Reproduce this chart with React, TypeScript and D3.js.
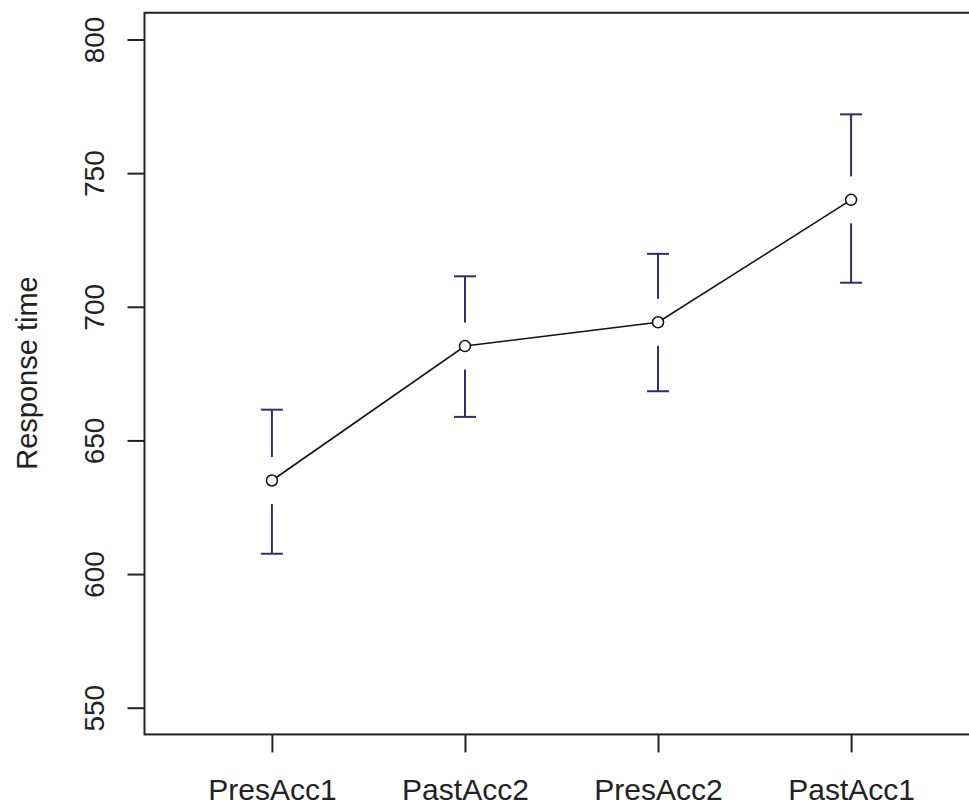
import React, { useRef, useEffect } from 'react';
import * as d3 from 'd3';

// condition order along the x axis
const conditions = ['PresAcc1', 'PastAcc2', 'PresAcc2', 'PastAcc1'];
// mean response time per condition
const means = [635, 685.3, 694.2, 740];
// error bar ends
const lower = [607.6, 658.8, 668.4, 709];
const upper = [661.5, 711.4, 719.8, 772];
const yTicks = [550, 600, 650, 700, 750, 800];

const W = 969;
const H = 809;
const FONT = '"Liberation Sans", Arial, Helvetica, sans-serif';

const App: React.FC = () => {
	const svgRef = useRef<SVGSVGElement | null>(null);

	useEffect(() => {
		if (!svgRef.current) return;
		const svg = d3.select(svgRef.current);
		svg.selectAll('*').remove();

		// R style: xlim (0.5, 4.5) and ylim (550, 800), each widened by 4%
		const x = d3.scaleLinear().domain([0.34, 4.66]).range([144.5, 978.5]);
		const y = d3.scaleLinear().domain([550, 800]).range([707.7, 39.5]);

		const idx = conditions.map((_, i) => i + 1);
		const ink = '#222';
		const barColor = '#2e2e6c';

		// plot box
		svg.append('rect')
			.attr('x', x(0.34))
			.attr('y', y(810))
			.attr('width', x(4.66) - x(0.34))
			.attr('height', y(540) - y(810))
			.attr('fill', 'none')
			.attr('stroke', ink)
			.attr('stroke-width', 2);

		// y axis
		const gy = svg.append('g')
			.attr('transform', `translate(${x(0.34)},0)`)
			.call(d3.axisLeft(y).tickValues(yTicks).tickSize(17).tickFormat(d3.format('d')));
		gy.select('.domain').remove();
		gy.selectAll('.tick line').attr('stroke', ink).attr('stroke-width', 2);
		gy.selectAll('.tick text')
			.attr('x', 0)
			.attr('dy', 0)
			.attr('transform', 'translate(-40.5,0) rotate(-90)')
			.attr('text-anchor', 'middle')
			.attr('fill', '#222')
			.style('font-family', FONT)
			.style('font-size', '28px');

		// x axis
		const gx = svg.append('g')
			.attr('transform', `translate(0,${y(540)})`)
			.call(d3.axisBottom(x).tickValues(idx).tickSize(18).tickFormat((d) => conditions[(d as number) - 1]));
		gx.select('.domain').remove();
		gx.selectAll('.tick line').attr('stroke', ink).attr('stroke-width', 2);
		gx.selectAll('.tick text')
			.attr('y', 65.7)
			.attr('dy', 0)
			.attr('fill', '#222')
			.style('font-family', FONT)
			.style('font-size', '30px');

		// y axis title
		svg.append('text')
			.attr('transform', 'translate(37,373) rotate(-90)')
			.attr('text-anchor', 'middle')
			.attr('fill', '#222')
			.style('font-family', FONT)
			.style('font-size', '29px')
			.text('Response time');

		// error bars, with a gap around the point like plotCI
		const gap = 23.5;
		const cap = 11;
		const bars = svg.append('g')
			.attr('stroke', barColor)
			.attr('stroke-width', 2)
			.selectAll('g')
			.data(idx)
			.join('g');
		bars.append('line')
			.attr('x1', (d) => x(d)).attr('x2', (d) => x(d))
			.attr('y1', (d, i) => y(upper[i])).attr('y2', (d, i) => y(means[i]) - gap);
		bars.append('line')
			.attr('x1', (d) => x(d)).attr('x2', (d) => x(d))
			.attr('y1', (d, i) => y(means[i]) + gap).attr('y2', (d, i) => y(lower[i]));
		bars.append('line')
			.attr('x1', (d) => x(d) - cap).attr('x2', (d) => x(d) + cap)
			.attr('y1', (d, i) => y(upper[i])).attr('y2', (d, i) => y(upper[i]));
		bars.append('line')
			.attr('x1', (d) => x(d) - cap).attr('x2', (d) => x(d) + cap)
			.attr('y1', (d, i) => y(lower[i])).attr('y2', (d, i) => y(lower[i]));

		// line through the means
		const line = d3.line<number>()
			.x((d) => x(d))
			.y((d, i) => y(means[i]));
		svg.append('path')
			.datum(idx)
			.attr('d', line)
			.attr('fill', 'none')
			.attr('stroke', '#111')
			.attr('stroke-width', 1.6);

		svg.append('g')
			.selectAll('circle')
			.data(idx)
			.join('circle')
			.attr('cx', (d) => x(d))
			.attr('cy', (d, i) => y(means[i]))
			.attr('r', 5.5)
			.attr('fill', '#fff')
			.attr('stroke', '#111')
			.attr('stroke-width', 1.5);
	}, []);

	return (
		<svg
			ref={svgRef}
			width={W}
			height={H}
			style={{ position: 'absolute', left: 0, top: 0, background: '#fff' }}
		/>
	);
};

export default App;
